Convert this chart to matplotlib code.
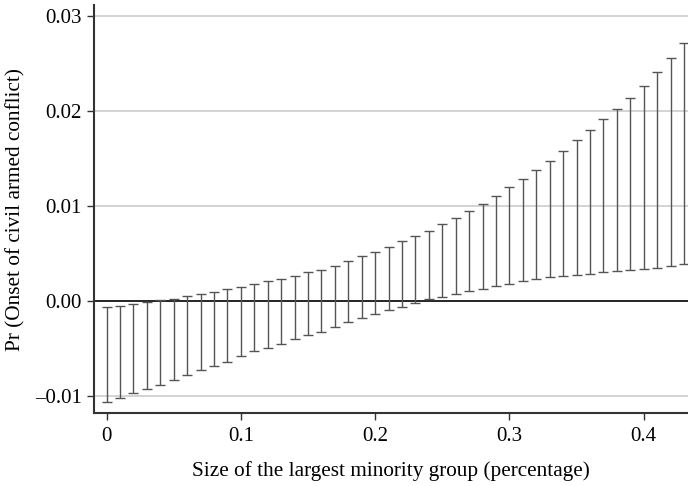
import numpy as np
import matplotlib.pyplot as plt

plt.rcParams["font.family"] = ["Liberation Serif", "DejaVu Serif"]

# share of the largest minority group
size = [i / 100 for i in range(44)]

# confidence interval, lower and upper end
lower = [-0.0106, -0.0102, -0.0097, -0.0093, -0.0088, -0.0083, -0.0078, -0.0073,
         -0.0068, -0.0064, -0.0058, -0.0053, -0.0049, -0.0045, -0.0040, -0.0036,
         -0.0032, -0.0027, -0.0022, -0.0018, -0.00134, -0.0009, -0.00057, -0.00018,
         0.0002, 0.0004, 0.0007, 0.00105, 0.0013, 0.0016, 0.00185, 0.0021,
         0.0023, 0.0025, 0.00266, 0.0028, 0.0029, 0.0031, 0.0032, 0.0033,
         0.00343, 0.0035, 0.0037, 0.0039]
upper = [-0.00067, -0.00053, -0.00028, -0.0001, 0.0001, 0.00024, 0.00049, 0.0007,
         0.0010, 0.00126, 0.00154, 0.00182, 0.0021, 0.00238, 0.0027, 0.0031,
         0.0033, 0.0037, 0.0042, 0.0048, 0.0052, 0.0057, 0.0063, 0.0069,
         0.0074, 0.0081, 0.0088, 0.0095, 0.0102, 0.0111, 0.0120, 0.0129,
         0.0138, 0.0148, 0.0158, 0.0170, 0.0180, 0.0192, 0.0202, 0.0214,
         0.0227, 0.0241, 0.0256, 0.0272]

yticks = [-0.01, 0.0, 0.01, 0.02, 0.03]
ylabels = ["\u20130.01", "0.00", "0.01", "0.02", "0.03"]
xticks = [0, 0.1, 0.2, 0.3, 0.4]
xlabels = ["0", "0.1", "0.2", "0.3", "0.4"]

fig = plt.figure(figsize=(6.88, 4.86), dpi=100)
ax = fig.add_axes([0.137, 0.150, 0.863, 0.8395])

for y in yticks:
    if y != 0:
        ax.axhline(y, color="#cccccc", lw=1.2, zorder=0)
ax.axhline(0, color="black", lw=1.2, zorder=1)

mid = [(a + b) / 2 for a, b in zip(lower, upper)]
err = [[m - a for m, a in zip(mid, lower)], [b - m for m, b in zip(mid, upper)]]
ax.errorbar(size, mid, yerr=err, fmt="none", ecolor="#555555", elinewidth=1.0,
            capsize=3.3, capthick=1.0, zorder=2)

ax.set_xlim(-0.0092, 0.433)
ax.set_ylim(-0.0118, 0.0312)
ax.set_xticks(xticks)
ax.set_xticklabels(xlabels)
ax.set_yticks(yticks)
ax.set_yticklabels(ylabels)

for s in ["top", "right"]:
    ax.spines[s].set_visible(False)
for s in ["left", "bottom"]:
    ax.spines[s].set_color("#333333")
    ax.spines[s].set_linewidth(1.5)
ax.tick_params(axis="both", direction="out", length=5, width=1.0, color="#333333",
               labelsize=15, pad=4)
ax.tick_params(axis="x", pad=5)

ax.set_xlabel("Size of the largest minority group (percentage)", fontsize=15.3, labelpad=11)
ax.set_ylabel("Pr (Onset of civil armed conflict)", fontsize=15.3, labelpad=7)

fig.savefig("out.png", dpi=100)
